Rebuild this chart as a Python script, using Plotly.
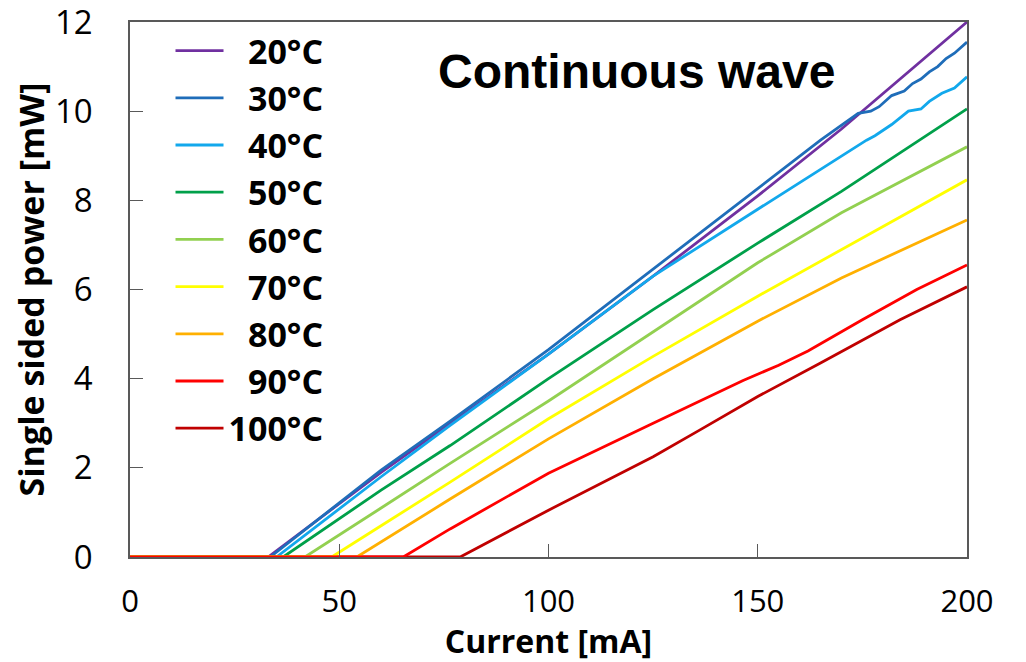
import plotly.graph_objects as go

# ---- data ----
labels = ["20°C", "30°C", "40°C", "50°C", "60°C", "70°C", "80°C", "90°C", "100°C"]
colors = ["#7030A0", "#1F6DB9", "#12A8EC", "#00A04A", "#92D050", "#FFFF00",
          "#FFB000", "#FF0000", "#C00000"]

current_20 = [0, 33, 60, 76.5, 100, 125, 150, 170, 185, 200]
power_20 = [0, 0, 1.9, 3.0, 4.55, 6.3, 8.1, 9.6, 10.8, 12.0]

current_30 = [0, 33.5, 60, 76.5, 100, 125, 150, 165, 174, 177, 179, 182, 185, 187,
              189, 191, 193, 195, 197, 200]
power_30 = [0, 0, 1.95, 3.05, 4.65, 6.45, 8.25, 9.35, 9.95, 10.0, 10.1, 10.35, 10.45,
            10.62, 10.72, 10.88, 11.0, 11.18, 11.3, 11.55]

current_40 = [0, 35, 60, 76.5, 100, 125, 150, 160, 170, 176, 178, 182, 186, 189,
              191, 194, 197, 200]
power_40 = [0, 0, 1.8, 2.95, 4.55, 6.3, 7.8, 8.4, 9.0, 9.35, 9.45, 9.7, 10.0, 10.05,
            10.22, 10.4, 10.52, 10.77]

current_50 = [0, 36.6, 60, 76.5, 100, 125, 150, 170, 200]
power_50 = [0, 0, 1.5, 2.5, 4.0, 5.55, 7.04, 8.2, 10.05]

current_60 = [0, 41.8, 60, 76.5, 100, 125, 150, 170, 200]
power_60 = [0, 0, 1.1, 2.1, 3.5, 5.05, 6.6, 7.72, 9.2]

current_70 = [0, 48.2, 60, 76.5, 100, 125, 150, 170, 200]
power_70 = [0, 0, 0.7, 1.68, 3.1, 4.5, 5.85, 6.9, 8.46]

current_80 = [0, 54.2, 76.5, 100, 125, 150, 170, 200]
power_80 = [0, 0, 1.3, 2.65, 4.0, 5.29, 6.26, 7.56]

current_90 = [0, 65.3, 76.5, 100, 125, 146.5, 155, 162, 175, 188, 200]
power_90 = [0, 0, 0.63, 1.88, 3.0, 3.96, 4.3, 4.62, 5.32, 6.0, 6.55]

current_100 = [0, 78.9, 100, 125, 136, 150, 165, 184, 200]
power_100 = [0, 0, 1.05, 2.25, 2.84, 3.6, 4.35, 5.32, 6.06]

x_ticks = [0, 50, 100, 150, 200]
y_ticks = [0, 2, 4, 6, 8, 10, 12]

series = [
    (current_20, power_20), (current_30, power_30), (current_40, power_40),
    (current_50, power_50), (current_60, power_60), (current_70, power_70),
    (current_80, power_80), (current_90, power_90), (current_100, power_100),
]

FIG_SPACE = "\u2007"
AXIS_COLOR = "#595959"

fig = go.Figure()
# draw 100°C first so the 90°C red baseline sits on top, keep legend order by rank
draw_order = [8, 0, 1, 2, 3, 4, 5, 6, 7]
for i in draw_order:
    xs, ys = series[i]
    name = labels[i] if len(labels[i]) == 5 else FIG_SPACE + labels[i]
    fig.add_trace(go.Scatter(
        x=xs, y=ys, mode="lines", name=name,
        line=dict(color=colors[i], width=2.8),
        legendrank=i + 1,
    ))

fig.add_annotation(
    text="Continuous wave", x=0.605, y=0.907, xref="paper", yref="paper",
    xanchor="center", yanchor="middle",
    showarrow=False, font=dict(family="Liberation Sans, Arial", size=48, color="#000000",
                               weight="bold"),
)

fig.update_layout(
    width=1026, height=662,
    margin=dict(l=130, r=59, t=22, b=105),
    paper_bgcolor="white", plot_bgcolor="white",
    font=dict(family="Open Sans", color="#000000"),
    showlegend=True,
    legend=dict(
        x=0.0484, y=1.0, xanchor="left", yanchor="top",
        bgcolor="rgba(0,0,0,0)", borderwidth=0,
        font=dict(family="Open Sans", size=34, color="#000000", weight="bold"),
        itemwidth=48,
    ),
    xaxis=dict(
        range=[0, 200], tickvals=x_ticks, ticks="inside", ticklen=13, tickwidth=1.3,
        tickcolor=AXIS_COLOR, showline=True, linecolor=AXIS_COLOR, linewidth=1.5,
        mirror=True, showgrid=False, zeroline=False, automargin=False,
        tickfont=dict(family="Open Sans", size=31, color="#000000"),
        ticklabelstandoff=16, ticklabeloverflow="allow",
        title=dict(text="Current [mA]", standoff=9,
                   font=dict(family="Open Sans", size=32, color="#000000", weight="bold")),
    ),
    yaxis=dict(
        range=[0, 12], tickvals=y_ticks, ticks="inside", ticklen=13, tickwidth=1.3,
        tickcolor=AXIS_COLOR, showline=True, linecolor=AXIS_COLOR, linewidth=1.5,
        mirror=True, showgrid=False, zeroline=False, automargin=False,
        tickfont=dict(family="Open Sans", size=33, color="#000000"),
        ticklabelstandoff=29, ticklabeloverflow="allow",
        title=dict(text="Single sided power [mW]", standoff=0,
                   font=dict(family="Open Sans", size=34, color="#000000", weight="bold")),
    ),
)

fig.write_html("out.html")
